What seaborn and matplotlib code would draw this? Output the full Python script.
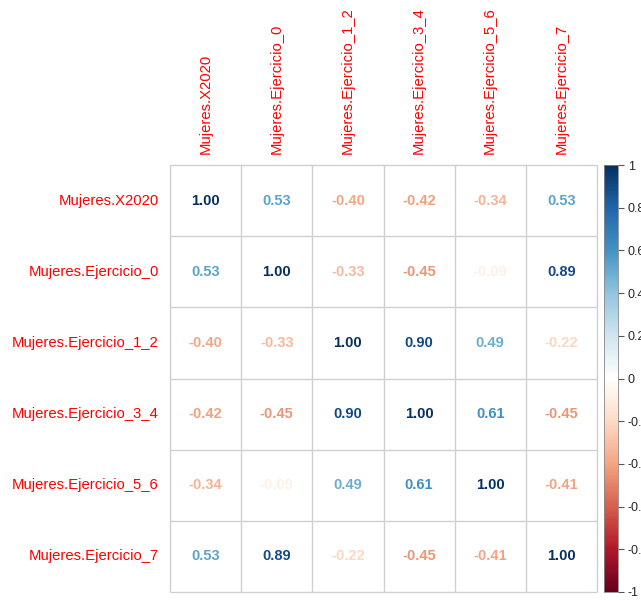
import numpy as np
import pandas as pd
import seaborn as sns
import matplotlib
matplotlib.use("Agg")
import matplotlib.pyplot as plt
from matplotlib.colors import LinearSegmentedColormap, ListedColormap, Normalize
from matplotlib.cm import ScalarMappable

# Variables and their pairwise correlations
variables = ["Mujeres.X2020", "Mujeres.Ejercicio_0", "Mujeres.Ejercicio_1_2",
             "Mujeres.Ejercicio_3_4", "Mujeres.Ejercicio_5_6", "Mujeres.Ejercicio_7"]
row_x2020 = [1.00, 0.53, -0.40, -0.42, -0.34, 0.53]
row_ej0 = [0.53, 1.00, -0.33, -0.45, -0.09, 0.89]
row_ej12 = [-0.40, -0.33, 1.00, 0.90, 0.49, -0.22]
row_ej34 = [-0.42, -0.45, 0.90, 1.00, 0.61, -0.45]
row_ej56 = [-0.34, -0.09, 0.49, 0.61, 1.00, -0.41]
row_ej7 = [0.53, 0.89, -0.22, -0.45, -0.41, 1.00]
colorbar_ticks = [-1, -0.8, -0.6, -0.4, -0.2, 0, 0.2, 0.4, 0.6, 0.8, 1]

corr = pd.DataFrame([row_x2020, row_ej0, row_ej12, row_ej34, row_ej56, row_ej7],
                    index=variables, columns=variables)

sns.set_theme(style="white")
plt.rcParams["font.family"] = ["Liberation Sans", "DejaVu Sans"]

# Red-to-blue diverging palette
rdbu = LinearSegmentedColormap.from_list(
    "rdbu_corr",
    ["#67001F", "#B2182B", "#D6604D", "#F4A582", "#FDDBC7", "#FFFFFF",
     "#D1E5F0", "#92C5DE", "#4393C3", "#2166AC", "#053061"], N=200)
norm = Normalize(vmin=-1, vmax=1)

W, H = 641, 601
fig = plt.figure(figsize=(W / 100, H / 100), dpi=100)
ax = fig.add_axes([170 / W, 9 / H, 427 / W, 427 / H])

sns.heatmap(corr, ax=ax, cmap=ListedColormap(["white"]), cbar=False,
            annot=True, fmt=".2f", linewidths=0,
            annot_kws={"fontsize": 10.5, "fontweight": "bold"},
            square=False)

# thin grey cell borders
n = len(variables)
ax.hlines(np.arange(n + 1), 0, n, colors="#d0d0d0", linewidth=1.0, snap=True, clip_on=False)
ax.vlines(np.arange(n + 1), 0, n, colors="#d0d0d0", linewidth=1.0, snap=True, clip_on=False)

# colour each coefficient by its value
vals = corr.values.ravel()
for txt, v in zip(ax.texts, vals):
    txt.set_color(rdbu(norm(v)))

ax.xaxis.tick_top()
ax.set_xticklabels(variables, rotation=90, color="#FF0000", fontsize=10.7)
ax.set_yticklabels(variables, rotation=0, color="#FF0000", fontsize=10.7)
ax.tick_params(axis="both", length=0, pad=8)
ax.set_xlabel("")
ax.set_ylabel("")

# colour legend on the right
cax = fig.add_axes([604 / W, 9 / H, 14 / W, 427 / H])
cb = fig.colorbar(ScalarMappable(norm=norm, cmap=rdbu), cax=cax, ticks=colorbar_ticks)
cb.ax.set_yticklabels([f"{t:g}" for t in colorbar_ticks])
cb.ax.tick_params(labelsize=9, length=4, width=0.8, color="#555555", pad=3)
cb.outline.set_edgecolor("#888888")
cb.outline.set_linewidth(0.6)

fig.savefig("out.png", dpi=100)
